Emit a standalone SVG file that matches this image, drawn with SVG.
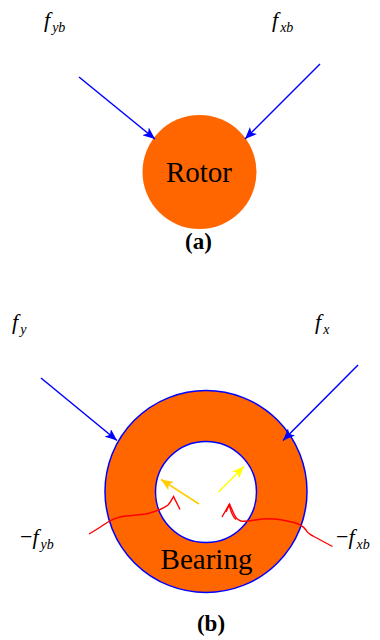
<svg xmlns="http://www.w3.org/2000/svg" width="380" height="640" viewBox="0 0 380 640">
<defs>
<marker id="ab" viewBox="0 0 12 10" refX="12" refY="5" markerWidth="12" markerHeight="10" markerUnits="userSpaceOnUse" orient="auto"><path d="M0,0 L12,5 L0,10 L3,5 Z" fill="#0000FF"/></marker>
<marker id="ag" viewBox="0 0 12 10" refX="12" refY="5" markerWidth="12" markerHeight="10" markerUnits="userSpaceOnUse" orient="auto"><path d="M0,0 L12,5 L0,10 L3,5 Z" fill="#FFCC00"/></marker>
<marker id="ay" viewBox="0 0 12 10" refX="12" refY="5" markerWidth="12" markerHeight="10" markerUnits="userSpaceOnUse" orient="auto"><path d="M0,0 L12,5 L0,10 L3,5 Z" fill="#FFFF00"/></marker>
</defs>
<style>
text{font-family:"Liberation Serif","Times New Roman",serif;fill:#000}
.lbl{font-size:29px;text-anchor:middle}
.cap{font-size:23px;font-weight:bold;text-anchor:middle}
.f{font-size:22px;font-style:italic}
.sub{font-size:14px;font-style:italic}
.blue{stroke:#0000FF;stroke-width:1.5;fill:none;marker-end:url(#ab)}
.red{stroke:#FF0000;stroke-width:1.4;fill:none}
</style>
<g id="rotor">
<circle cx="199.5" cy="172" r="57" fill="#FF6600"/>
<text class="lbl" x="199" y="182">Rotor</text>
</g>
<g id="bearing">
<circle cx="206" cy="491.5" r="101" fill="#FF6600" stroke="#0000FF" stroke-width="1.5"/>
<circle cx="206" cy="492" r="50.5" fill="#FFFFFF" stroke="#0000FF" stroke-width="1.5"/>
<text class="lbl" x="206.5" y="569">Bearing</text>
</g>
<g id="labels">
<text class="f" x="44" y="27">f<tspan class="sub" dx="2" dy="5">yb</tspan></text>
<text class="f" x="272" y="27">f<tspan class="sub" dx="2" dy="5">xb</tspan></text>
<text class="f" x="12" y="329">f<tspan class="sub" dx="2" dy="5">y</tspan></text>
<text class="f" x="315" y="329">f<tspan class="sub" dx="2" dy="5">x</tspan></text>
<text class="f" x="20" y="544"><tspan font-style="normal">−</tspan>f<tspan class="sub" dx="2" dy="5">yb</tspan></text>
<text class="f" x="336" y="544"><tspan font-style="normal">−</tspan>f<tspan class="sub" dx="2" dy="5">xb</tspan></text>
<text class="cap" x="198.5" y="249">(a)</text>
<text class="cap" x="211" y="631">(b)</text>
</g>
<g id="connectors">
<line class="blue" x1="79" y1="77" x2="155" y2="139"/>
<line class="blue" x1="320" y1="64" x2="245" y2="139"/>
<line class="blue" x1="41" y1="378" x2="117" y2="440.5"/>
<line class="blue" x1="358" y1="365" x2="283" y2="440.5"/>
<line x1="199" y1="504" x2="161" y2="479.5" stroke="#FFCC00" stroke-width="1.5" marker-end="url(#ag)"/>
<line x1="218.5" y1="492" x2="244" y2="466.5" stroke="#FFFF00" stroke-width="1.5" marker-end="url(#ay)"/>
<path class="red" d="M89,534 C96,530 102,526 108,522 C113,519 118,517 126,516 C134,515 142,515 150,513 C157,511 163,509 168,505 C171,502 172,499 173.5,496.5 L180,509.5"/>
<path class="red" d="M332.5,546.5 L313,536 C309,534 307,532 306,530 C303,526 300,524 294,522.5 C285,520 272,518 262,519 C254,520 247,522 241,521 C237,520 235,517 233,512 L229.5,504 L222,517"/>
<path class="red" d="M229.5,504 L226,512 M229.5,506 C231,512 233,517 236,519.5"/>
</g>
</svg>
